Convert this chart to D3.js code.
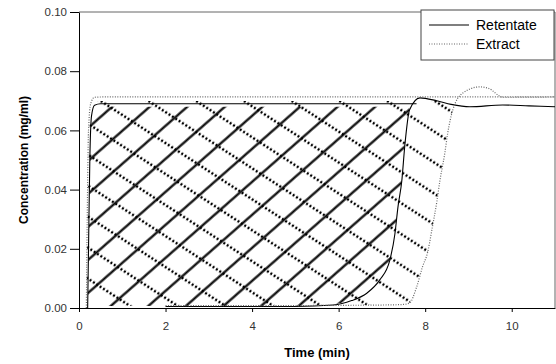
<!DOCTYPE html>
<html>
<head>
<meta charset="utf-8">
<script src="https://cdn.jsdelivr.net/npm/d3@7"></script>
<style>
body { margin: 0; background: #fff; }
svg { display: block; font-family: "Liberation Sans", Arial, sans-serif; }
</style>
</head>
<body>
<svg id="chart" width="556" height="364"></svg>
<script>
// axis ticks
const xTicks = [0, 2, 4, 6, 8, 10];
const yTicks = [0, 0.02, 0.04, 0.06, 0.08, 0.10];
const seriesNames = ["Retentate", "Extract"];

// [time (min), concentration (mg/ml)]
const retentateStep = [[0.2, 0], [0.22, 0.02], [0.25, 0.05], [0.29, 0.065], [0.36, 0.0685], [0.5, 0.069], [7.8, 0.069]];
const retentateOut = [[2, 0.0005], [5.0, 0.0005], [5.87, 0.001], [6.3, 0.0025], [6.65, 0.005], [6.95, 0.0095],
	[7.18, 0.016], [7.30, 0.025], [7.37, 0.034], [7.46, 0.043], [7.53, 0.055], [7.64, 0.067], [7.88, 0.071],
	[8.27, 0.070], [8.6, 0.0688], [9.03, 0.068], [9.79, 0.0686], [10.4, 0.0683], [11, 0.068]];
const extractStep = [[0.17, 0], [0.19, 0.03], [0.22, 0.06], [0.27, 0.069], [0.36, 0.0712], [0.6, 0.0713], [11, 0.0713]];
const extractOut = [[2, 0.0008], [4, 0.0008], [6, 0.0009], [7.0, 0.001], [7.5, 0.0012], [7.64, 0.0017], [7.8, 0.007],
	[7.94, 0.014], [8.06, 0.019], [8.15, 0.026], [8.27, 0.036], [8.34, 0.043], [8.45, 0.052], [8.52, 0.059],
	[8.64, 0.067], [8.87, 0.0726], [9.26, 0.0747], [9.45, 0.0743], [9.8, 0.0712], [11, 0.0713]];

const svg = d3.select("#chart");
const margin = { top: 12, right: 1, bottom: 56, left: 79 };
const W = 556, H = 364;

const x = d3.scaleLinear().domain([0, 11]).range([margin.left, W - margin.right]);
const y = d3.scaleLinear().domain([0, 0.10]).range([H - margin.bottom, margin.top]);

const defs = svg.append("defs");

// hatch patterns
function hatch(id, angle, gap, ox, oy, dashed) {
	const p = defs.append("pattern")
		.attr("id", id)
		.attr("patternUnits", "userSpaceOnUse")
		.attr("width", 20)
		.attr("height", gap)
		.attr("patternTransform", `translate(${ox},${oy}) rotate(${angle}) translate(0,${-gap / 2})`);
	const l = p.append("line")
		.attr("x1", 0).attr("x2", 20)
		.attr("y1", gap / 2).attr("y2", gap / 2)
		.style("stroke", "#000")
		.style("stroke-width", 2.2);
	if (dashed) l.style("stroke-dasharray", "2,2").style("stroke-width", 2.4);
}
hatch("hatchSolid", -41.3, 24.8, 88, 293, false);
hatch("hatchDot", 33, 26, 90, 125, true);

const toPx = d => [x(d[0]), y(d[1])];
const poly = pts => "M" + pts.map(toPx).map(p => p.join(",")).join("L") + "Z";

// region under the retentate curves
const rCut = 7.64;
const rPts = retentateStep.filter(d => d[0] < rCut).concat([[rCut, 0.069]])
	.concat(retentateOut.filter(d => d[0] <= rCut).reverse())
	.concat([[2, 0]]);
defs.append("clipPath").attr("id", "clipR").append("path").attr("d", poly(rPts));

const eCut = 8.64;
const ePts = extractStep.filter(d => d[0] < eCut).concat([[eCut, 0.0713]])
	.concat(extractOut.filter(d => d[0] <= eCut).reverse())
	.concat([[2, 0]]);
defs.append("clipPath").attr("id", "clipE").append("path").attr("d", poly(ePts));

defs.append("clipPath").attr("id", "clipInR").append("rect")
	.attr("x", x(0)).attr("width", x(11) - x(0))
	.attr("y", y(0.069) + 3).attr("height", y(0) - y(0.069) - 5);
defs.append("clipPath").attr("id", "clipInE").append("rect")
	.attr("x", x(0)).attr("width", x(11) - x(0))
	.attr("y", y(0.0713) + 4).attr("height", y(0) - y(0.0713) - 6);

svg.append("g").attr("clip-path", "url(#clipInE)")
	.append("path").attr("d", poly(ePts)).attr("clip-path", "url(#clipE)")
	.style("fill", "url(#hatchDot)");
svg.append("g").attr("clip-path", "url(#clipInR)")
	.append("path").attr("d", poly(rPts)).attr("clip-path", "url(#clipR)")
	.style("fill", "url(#hatchSolid)");

// frame
svg.append("path")
	.attr("d", `M${x(0)},${y(0.1)}H${x(11)}V${y(0)}`)
	.style("fill", "none").style("stroke", "#666").style("stroke-width", 1);

// axes
const xAxis = svg.append("g")
	.attr("transform", `translate(0,${y(0)})`)
	.call(d3.axisBottom(x).tickValues(xTicks).tickSize(4).tickPadding(10).tickSizeOuter(0));
const yAxis = svg.append("g")
	.attr("transform", `translate(${x(0)},0)`)
	.call(d3.axisLeft(y).tickValues(yTicks).tickFormat(d3.format(".2f")).tickSize(9).tickPadding(3).tickSizeOuter(0));
[xAxis, yAxis].forEach(a => {
	a.selectAll("text").style("font-size", "11.5px").style("fill", "#333").style("font-family", "Liberation Sans, Arial, sans-serif");
	a.select(".domain").style("stroke", "#000");
	a.selectAll(".tick line").style("stroke", "#000");
});

// curves
const line = d3.line().x(d => x(d[0])).y(d => y(d[1])).curve(d3.curveMonotoneX);
[retentateStep, retentateOut].forEach(s => {
	svg.append("path").attr("d", line(s))
		.style("fill", "none").style("stroke", "#000").style("stroke-width", 1.1);
});
[extractStep, extractOut].forEach(s => {
	svg.append("path").attr("d", line(s))
		.style("fill", "none").style("stroke", "#666").style("stroke-width", 1.2)
		.style("stroke-dasharray", "1,1.5");
});

// axis titles
svg.append("text")
	.attr("x", (x(0) + x(11)) / 2)
	.attr("y", 357)
	.attr("text-anchor", "middle")
	.style("font-size", "13px")
	.style("font-weight", "bold")
	.text("Time (min)");
svg.append("text")
	.attr("transform", `translate(28,${(y(0) + y(0.1)) / 2}) rotate(-90)`)
	.attr("text-anchor", "middle")
	.style("font-size", "12px")
	.style("font-weight", "bold")
	.text("Concentration (mg/ml)");

// legend
const legend = svg.append("g");
legend.append("rect")
	.attr("x", 421).attr("y", 10).attr("width", 133).attr("height", 50)
	.style("fill", "#fff").style("stroke", "#444").style("stroke-width", 1);
seriesNames.forEach((name, i) => {
	const ly = 25 + i * 19;
	const l = legend.append("line")
		.attr("x1", 429).attr("x2", 469).attr("y1", ly).attr("y2", ly)
		.style("stroke", i === 0 ? "#000" : "#666")
		.style("stroke-width", i === 0 ? 1.1 : 1.2);
	if (i === 1) l.style("stroke-dasharray", "1,1.5");
	legend.append("text")
		.attr("x", 476).attr("y", ly + 5)
		.style("font-size", "14px")
		.text(name);
});
</script>
</body>
</html>
